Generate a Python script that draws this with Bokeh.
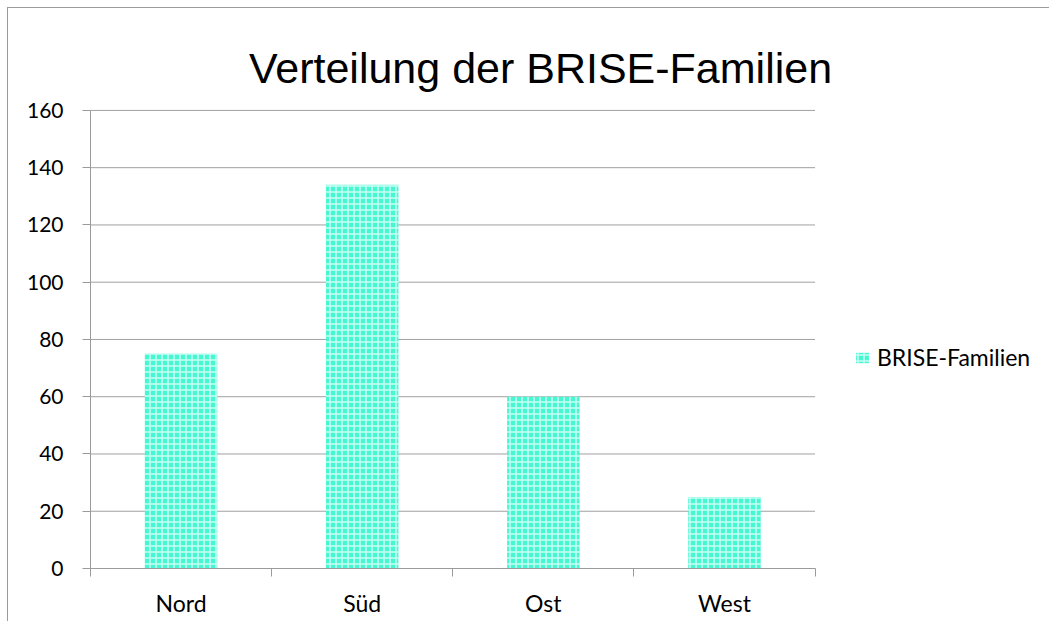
from bokeh.plotting import figure
from bokeh.models import (Range1d, FixedTicker, Legend, LegendItem, Label,
                          ColumnDataSource)
from bokeh.embed import file_html
from bokeh.resources import INLINE

# ---- data ----
categories = ["Nord", "Süd", "Ost", "West"]
values = [75, 134, 60, 25]
series_name = "BRISE-Familien"
y_ticks = [0, 20, 40, 60, 80, 100, 120, 140, 160]
title_text = "Verteilung der BRISE-Familien"

n = len(categories)
xs = [i + 0.5 for i in range(n)]
src = ColumnDataSource(dict(x=xs, top=values, cat=categories))
grid_src = ColumnDataSource(dict(y=y_ticks[1:], x0=[0] * (len(y_ticks) - 1),
                                 x1=[n] * (len(y_ticks) - 1)))

# The frame covers the whole chart right of the y labels and above the
# x labels; categories use 0..4 and values 0..160, the rest holds the
# title and the legend.
p = figure(width=1042, height=614, output_backend="svg", toolbar_location=None,
           x_range=Range1d(0, 5.3), y_range=Range1d(0, 195.6),
           min_border_left=82, min_border_right=0, min_border_top=0,
           min_border_bottom=54, title=None)
p.outline_line_color = None
p.background_fill_color = "white"
p.border_fill_color = "white"
p.styles = {"margin-left": "7px", "margin-top": "7px",
            "border-left": "1px solid #9b9b9b", "border-top": "1px solid #9b9b9b"}

# horizontal grid lines, limited to the category area
p.segment(x0="x0", x1="x1", y0="y", y1="y", source=grid_src,
          line_color="#a0a0a0", line_width=1)

bars = p.vbar(x="x", top="top", bottom=0, width=0.4, source=src,
              fill_color="#45F8D2", line_color=None,
              hatch_pattern="+", hatch_color="white", hatch_scale=6,
              hatch_weight=1.6, hatch_alpha=0.7)

# y axis
p.yaxis.ticker = FixedTicker(ticks=y_ticks)
p.yaxis.bounds = (0, 160)
p.yaxis.axis_line_color = "#9b9b9b"
p.yaxis.major_tick_line_color = "#9b9b9b"
p.yaxis.major_tick_out = 8
p.yaxis.major_tick_in = 0
p.yaxis.minor_tick_line_color = None
p.yaxis.major_label_standoff = 19
p.yaxis.major_label_text_font = "Lato"
p.yaxis.major_label_text_font_size = "21px"
p.yaxis.major_label_text_color = "black"

# x axis: labels at category centres, ticks at boundaries
p.xaxis.ticker = FixedTicker(ticks=xs, minor_ticks=list(range(n + 1)))
p.xaxis.major_label_overrides = {x: c for x, c in zip(xs, categories)}
p.xaxis.bounds = (0, n)
p.xaxis.axis_line_color = "#9b9b9b"
p.xaxis.major_tick_line_color = None
p.xaxis.minor_tick_line_color = "#9b9b9b"
p.xaxis.minor_tick_out = 8
p.xaxis.minor_tick_in = 0
p.xaxis.major_label_standoff = 12
p.xaxis.major_label_text_font = "Lato"
p.xaxis.major_label_text_font_size = "23px"
p.xaxis.major_label_text_color = "black"

p.xgrid.grid_line_color = None
p.ygrid.grid_line_color = None

# title (screen units are relative to the frame's lower-left corner)
lab = Label(x=450, y=501, x_units="screen", y_units="screen", text=title_text,
            text_align="center", text_baseline="alphabetic",
            text_font="Liberation Sans", text_font_size="43px",
            text_color="black")
p.add_layout(lab)

# legend
legend = Legend(items=[LegendItem(label=series_name, renderers=[bars])],
                location=(764, 197), orientation="vertical",
                label_text_font="Lato", label_text_font_size="23px",
                label_text_color="black",
                glyph_width=16, glyph_height=13, label_standoff=7,
                padding=0, margin=0, border_line_color=None,
                background_fill_alpha=0)
p.add_layout(legend)

open("out.html", "w").write(file_html(p, INLINE))
